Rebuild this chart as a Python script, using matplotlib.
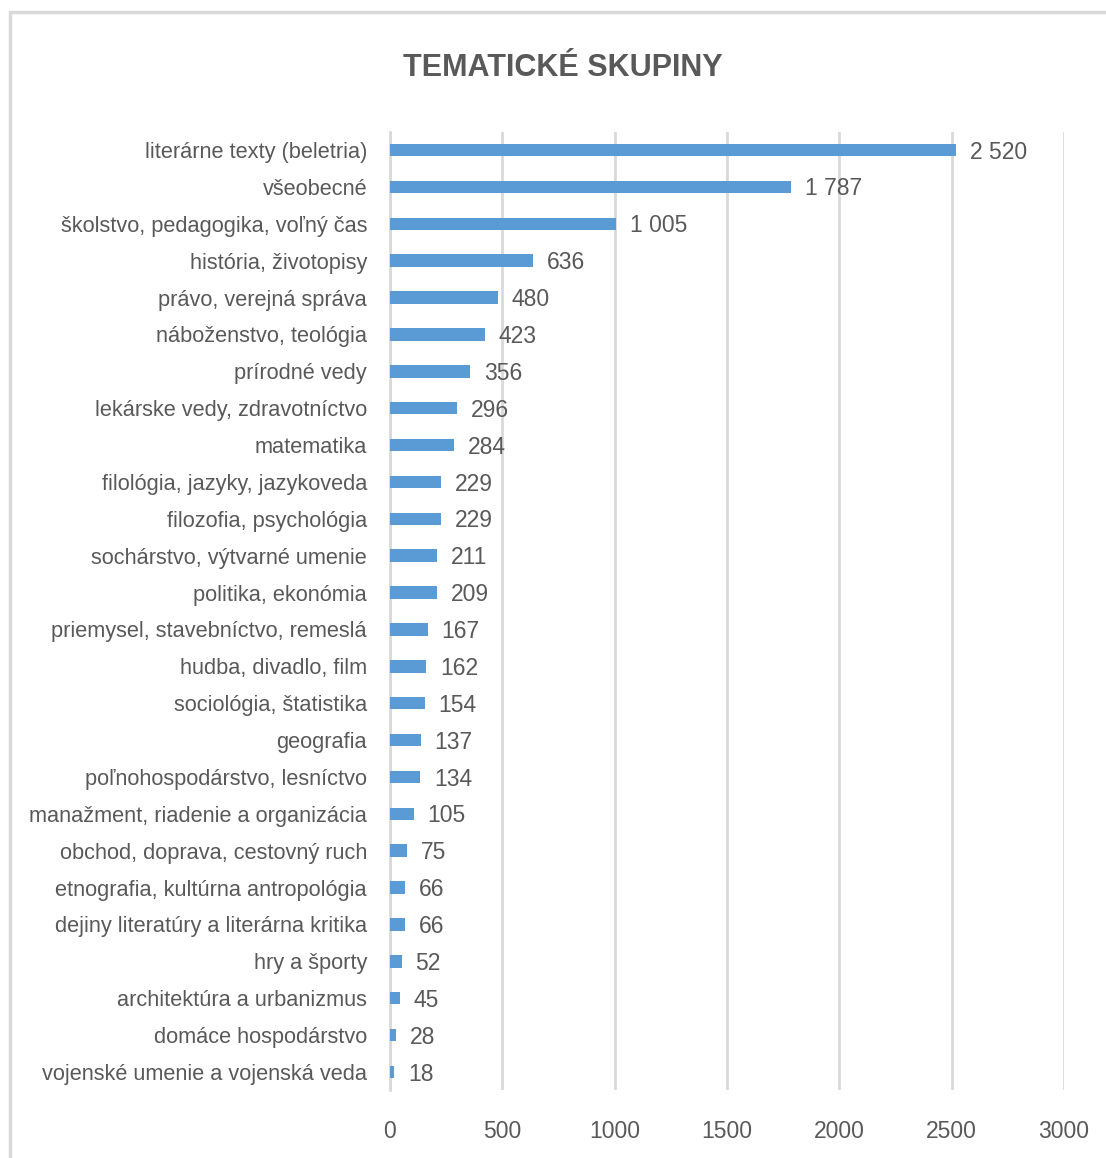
import matplotlib
matplotlib.use("Agg")
import matplotlib.pyplot as plt
from matplotlib.patches import Rectangle

categories = [
    "literárne texty (beletria)", "všeobecné", "školstvo, pedagogika, voľný čas",
    "história, životopisy", "právo, verejná správa", "náboženstvo, teológia",
    "prírodné vedy", "lekárske vedy, zdravotníctvo", "matematika",
    "filológia, jazyky, jazykoveda", "filozofia, psychológia",
    "sochárstvo, výtvarné umenie", "politika, ekonómia",
    "priemysel, stavebníctvo, remeslá", "hudba, divadlo, film",
    "sociológia, štatistika", "geografia", "poľnohospodárstvo, lesníctvo",
    "manažment, riadenie a organizácia", "obchod, doprava, cestovný ruch",
    "etnografia, kultúrna antropológia", "dejiny literatúry a literárna kritika",
    "hry a športy", "architektúra a urbanizmus", "domáce hospodárstvo",
    "vojenské umenie a vojenská veda",
]
values = [2520, 1787, 1005, 636, 480, 423, 356, 296, 284, 229, 229, 211, 209,
          167, 162, 154, 137, 134, 105, 75, 66, 66, 52, 45, 28, 18]
xticks = [0, 500, 1000, 1500, 2000, 2500, 3000]
title = "TEMATICKÉ SKUPINY"

plt.rcParams['font.family'] = ["Liberation Sans", "DejaVu Sans"]

W, H = 1106, 1158
fig = plt.figure(figsize=(W / 100, H / 100), dpi=100)
txt = "#595959"

# outer frame
fig.patches.append(Rectangle((10 / W, -0.1), 1.2, 1 - 12 / H + 0.1, transform=fig.transFigure,
                             fill=False, edgecolor="#D9D9D9", linewidth=2.5))

ax = fig.add_axes([390 / W, 1 - 1090.4 / H, (1064 - 390) / W, (1090.4 - 131.6) / H])
n = len(categories)
ypos = list(range(n))[::-1]
ax.barh(ypos, values, height=0.34, color="#5B9BD5", zorder=3)
ax.set_ylim(-0.5, n - 0.5)
ax.set_xlim(0, 3000)
ax.set_yticks(ypos)
ax.set_yticklabels(categories, fontsize=15.7, color=txt)
ax.set_xticks(xticks)
ax.set_xticklabels([str(t) for t in xticks], fontsize=16.5, color=txt)
ax.tick_params(axis='both', length=0)
ax.tick_params(axis='y', pad=16.5)
ax.tick_params(axis='x', pad=21)
ax.grid(axis='x', color="#D9D9D9", linewidth=2, zorder=0)
for s in ["top", "right", "bottom"]:
    ax.spines[s].set_visible(False)
ax.spines["left"].set_color("#D9D9D9")
ax.spines["left"].set_linewidth(2)

for y, v in zip(ypos, values):
    lab = f"{v:,}".replace(",", " ")
    ax.annotate(lab, (v, y), xytext=(10, -1.5), textcoords="offset points",
                va="center", ha="left", fontsize=16.5, color=txt)

fig.text(563 / W, 1 - 68 / H, title, ha="center", va="center", fontsize=22,
         fontweight="bold", color=txt)

fig.savefig("out.png", dpi=100)
